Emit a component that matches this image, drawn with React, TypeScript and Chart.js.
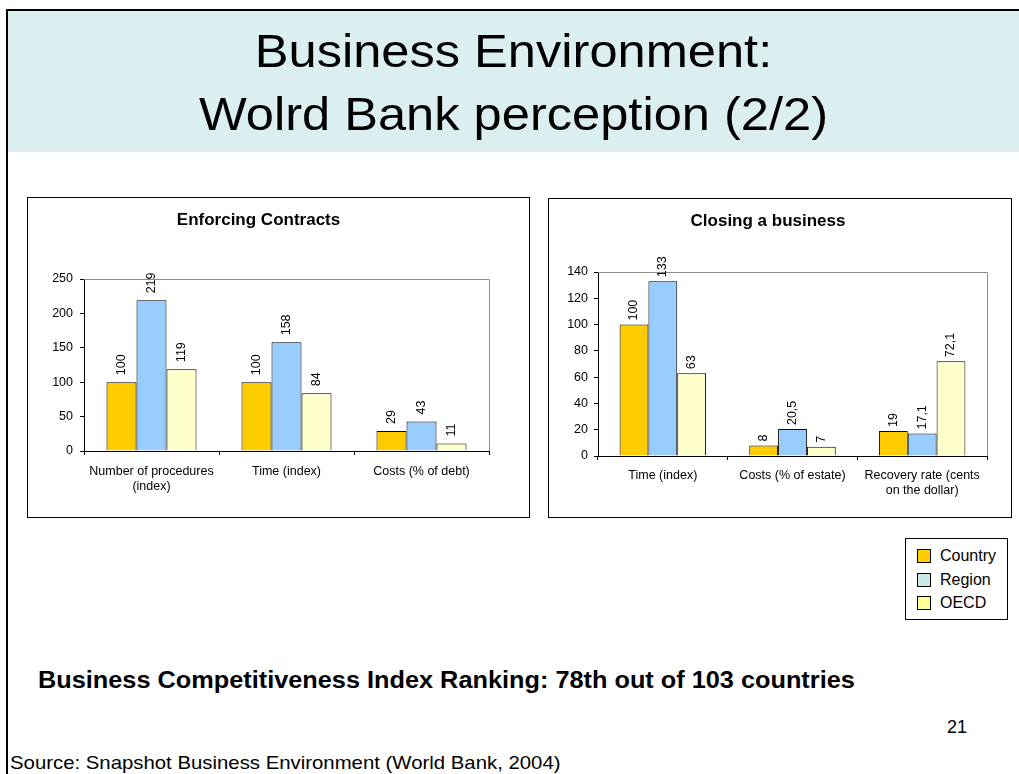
import React, { useEffect, useRef } from "react";
import { Chart, registerables } from "chart.js";

Chart.register(...registerables);

const FONT = "'Liberation Sans', Arial, Helvetica, sans-serif";

// ---- Data ----
const seriesNames = ["Country", "Region", "OECD"];
const barColors = ["#FFCC00", "#99CCFF", "#FFFFCC"];
const legendColors = ["#FFCC00", "#CCE8E8", "#FFFF99"];

const enforcingTitle = "Enforcing Contracts";
const enforcingCategories: (string | string[])[] = [
  ["Number of procedures", "(index)"],
  "Time (index)",
  "Costs (% of debt)",
];
const enforcingCountry = [100, 100, 29];
const enforcingRegion = [219, 158, 43];
const enforcingOECD = [119, 84, 11];
const enforcingYMax = 250;
const enforcingYStep = 50;

const closingTitle = "Closing a business";
const closingCategories: (string | string[])[] = [
  "Time (index)",
  "Costs (% of estate)",
  ["Recovery rate (cents", "on the dollar)"],
];
const closingCountry = [100, 8, 19];
const closingRegion = [133, 20.5, 17.1];
const closingOECD = [63, 7, 72.1];
const closingYMax = 140;
const closingYStep = 20;

// ---- Plugins ----
const plotFrame = {
  id: "plotFrame",
  beforeDatasetsDraw(chart: any) {
    const { ctx, chartArea } = chart;
    ctx.save();
    ctx.strokeStyle = "#8c8c8c";
    ctx.lineWidth = 1;
    ctx.beginPath();
    ctx.moveTo(chartArea.left, Math.round(chartArea.top) + 0.5);
    ctx.lineTo(Math.round(chartArea.right) + 0.5, Math.round(chartArea.top) + 0.5);
    ctx.lineTo(Math.round(chartArea.right) + 0.5, chartArea.bottom);
    ctx.stroke();
    ctx.restore();
  },
};

const valueLabels = {
  id: "valueLabels",
  afterDatasetsDraw(chart: any, _args: any, opts: any) {
    const ctx = chart.ctx;
    ctx.save();
    ctx.font = `12.5px ${FONT}`;
    ctx.fillStyle = "#000";
    ctx.textAlign = "left";
    ctx.textBaseline = "middle";
    chart.data.datasets.forEach((ds: any, i: number) => {
      const meta = chart.getDatasetMeta(i);
      meta.data.forEach((bar: any, j: number) => {
        const txt = String(ds.data[j]).replace(".", ",");
        ctx.save();
        ctx.translate(bar.x, bar.y - (opts.gap ?? 5));
        ctx.rotate(-Math.PI / 2);
        ctx.fillText(txt, 0, 0);
        ctx.restore();
      });
    });
    ctx.restore();
  },
};

type BarChartProps = {
  title: string;
  categories: (string | string[])[];
  series: number[][];
  yMax: number;
  yStep: number;
  width: number;
  height: number;
  plotLeft: number;
  plotRight: number;
  plotTop: number;
  plotBottom: number;
  titleY: number;
  labelGap: number;
  yLabelPad: number;
  xLabelPad: number;
};

function BarChart(p: BarChartProps) {
  const ref = useRef<HTMLCanvasElement | null>(null);
  useEffect(() => {
    if (!ref.current) return;
    const titleLine = 17 * 1.2;
    const chart = new Chart(ref.current, {
      type: "bar",
      data: {
        labels: p.categories as any,
        datasets: p.series.map((d, i) => ({
          label: seriesNames[i],
          data: d,
          backgroundColor: barColors[i],
          borderColor: "#000",
          borderWidth: 1,
          categoryPercentage: 0.667,
          barPercentage: 1,
        })),
      },
      options: {
        animation: false,
        responsive: false,
        devicePixelRatio: 1,
        layout: {
          padding: { left: 0, right: p.width - p.plotRight, top: 0, bottom: 0 },
        },
        plugins: {
          legend: { display: false },
          tooltip: { enabled: false },
          title: {
            display: true,
            text: p.title,
            color: "#000",
            font: { family: FONT, size: 17, weight: "bold" },
            padding: {
              top: p.titleY - titleLine / 2,
              bottom: p.plotTop - (p.titleY + titleLine / 2),
            },
          },
          valueLabels: { gap: p.labelGap },
        } as any,
        scales: {
          x: {
            grid: {
              display: true,
              drawOnChartArea: false,
              drawTicks: true,
              tickLength: 4,
              color: "#000",
              offset: true,
            },
            border: { display: true, color: "#000", width: 1 },
            ticks: {
              color: "#000",
              font: { family: FONT, size: 12.5, lineHeight: 1.2 },
              maxRotation: 0,
              minRotation: 0,
              autoSkip: false,
              padding: p.xLabelPad,
            },
            afterFit: (s: any) => {
              s.height = p.height - p.plotBottom;
            },
          },
          y: {
            min: 0,
            max: p.yMax,
            grid: {
              display: true,
              drawOnChartArea: false,
              drawTicks: true,
              tickLength: 4,
              color: "#000",
            },
            border: { display: true, color: "#000", width: 1 },
            ticks: {
              stepSize: p.yStep,
              color: "#000",
              font: { family: FONT, size: 12.5 },
              padding: p.yLabelPad,
            },
            afterFit: (s: any) => {
              s.width = p.plotLeft;
            },
          },
        },
      },
      plugins: [plotFrame, valueLabels],
    });
    return () => chart.destroy();
  }, []);
  return (
    <canvas
      ref={ref}
      width={p.width}
      height={p.height}
      style={{ display: "block", width: p.width, height: p.height }}
    />
  );
}

export default function App() {
  return (
    <>
      <style>{`html,body{margin:0;padding:0;overflow:hidden;background:#fff;}`}</style>
      <div
        style={{
          position: "absolute",
          left: 6,
          top: 9,
          width: 1013,
          height: 765,
          borderLeft: "2px solid #000",
          borderTop: "2px solid #000",
          boxSizing: "border-box",
          overflow: "hidden",
          fontFamily: FONT,
          color: "#000",
          background: "#fff",
        }}
      >
        {/* Title band */}
        <div
          style={{
            position: "absolute",
            left: 0,
            top: 0,
            width: 1011,
            height: 141,
            background: "#DBEEF0",
          }}
        />
        <div
          style={{
            position: "absolute",
            left: 0,
            top: 9,
            width: 1011,
            textAlign: "center",
            fontSize: 46,
            lineHeight: "63px",
            transform: "scaleX(1.1)",
            transformOrigin: "50% 0",
            whiteSpace: "nowrap",
          }}
        >
          Business Environment:
          <br />
          Wolrd Bank perception (2/2)
        </div>

        {/* Left chart panel */}
        <div
          style={{
            position: "absolute",
            left: 19,
            top: 186,
            width: 503,
            height: 321,
            border: "1px solid #000",
            boxSizing: "border-box",
            background: "#fff",
          }}
        >
          <BarChart
            title={enforcingTitle}
            categories={enforcingCategories}
            series={[enforcingCountry, enforcingRegion, enforcingOECD]}
            yMax={enforcingYMax}
            yStep={enforcingYStep}
            width={501}
            height={319}
            plotLeft={56}
            plotRight={461}
            plotTop={81}
            plotBottom={253}
            titleY={22}
            labelGap={7}
            yLabelPad={7}
            xLabelPad={9}
          />
        </div>

        {/* Right chart panel */}
        <div
          style={{
            position: "absolute",
            left: 540,
            top: 187,
            width: 464,
            height: 320,
            border: "1px solid #000",
            boxSizing: "border-box",
            background: "#fff",
          }}
        >
          <BarChart
            title={closingTitle}
            categories={closingCategories}
            series={[closingCountry, closingRegion, closingOECD]}
            yMax={closingYMax}
            yStep={closingYStep}
            width={462}
            height={318}
            plotLeft={49}
            plotRight={438}
            plotTop={73}
            plotBottom={257}
            titleY={22}
            labelGap={4}
            yLabelPad={6}
            xLabelPad={8}
          />
        </div>

        {/* Legend */}
        <div
          style={{
            position: "absolute",
            left: 897,
            top: 527,
            width: 103,
            height: 82,
            border: "1px solid #000",
            boxSizing: "border-box",
            background: "#fff",
          }}
        >
          {seriesNames.map((name, i) => (
            <div
              key={name}
              style={{
                position: "absolute",
                left: 11,
                top: 8 + i * 23.5,
                height: 18,
                display: "flex",
                alignItems: "center",
                whiteSpace: "nowrap",
              }}
            >
              <span
                style={{
                  display: "inline-block",
                  width: 14,
                  height: 14,
                  boxSizing: "border-box",
                  border: "1px solid #000",
                  background: legendColors[i],
                  marginRight: 9,
                }}
              />
              <span style={{ fontSize: 16, lineHeight: "18px" }}>{name}</span>
            </div>
          ))}
        </div>

        {/* Bottom texts */}
        <div
          style={{
            position: "absolute",
            left: 30,
            top: 656,
            fontSize: 23,
            fontWeight: "bold",
            lineHeight: "26px",
            whiteSpace: "nowrap",
            transform: "scaleX(1.1)",
            transformOrigin: "0 0",
          }}
        >
          Business Competitiveness Index Ranking: 78th out of 103 countries
        </div>
        <div
          style={{
            position: "absolute",
            left: 939,
            top: 705,
            fontSize: 18,
            lineHeight: "22px",
            whiteSpace: "nowrap",
          }}
        >
          21
        </div>
        <div
          style={{
            position: "absolute",
            left: 2,
            top: 742,
            fontSize: 18.5,
            lineHeight: "20px",
            whiteSpace: "nowrap",
            transform: "scaleX(1.1)",
            transformOrigin: "0 0",
          }}
        >
          Source: Snapshot Business Environment (World Bank, 2004)
        </div>
      </div>
    </>
  );
}
